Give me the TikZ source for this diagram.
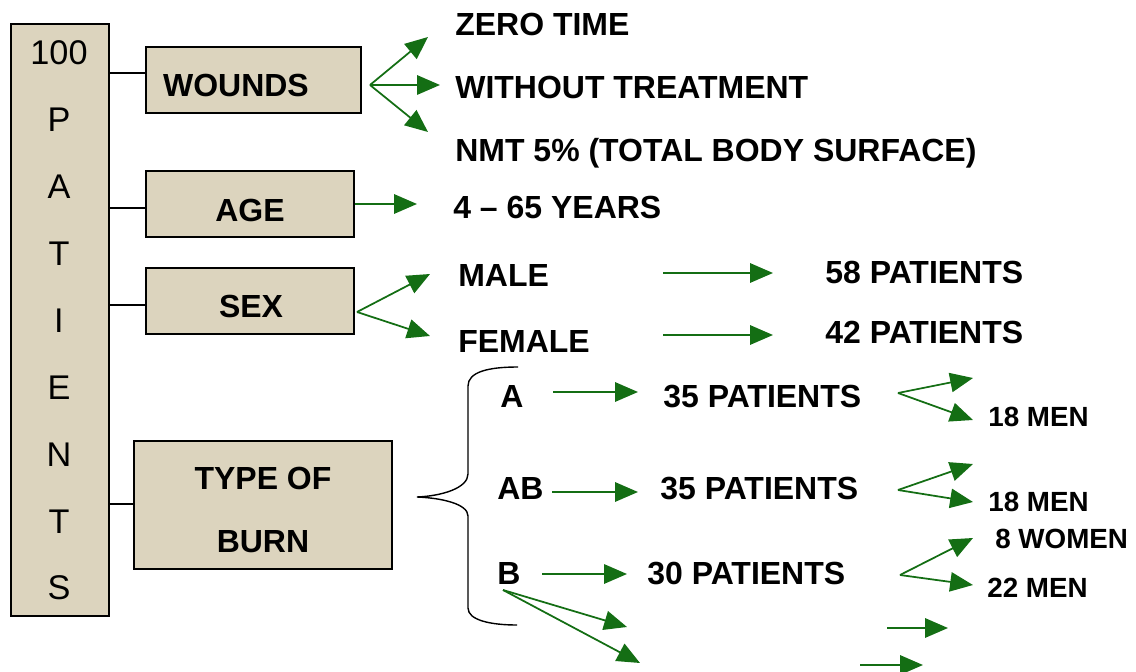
\documentclass[tikz,border=0pt]{standalone}
\usepackage{fontspec}
\setmainfont{Liberation Sans}
\usetikzlibrary{arrows.meta,fit}
\definecolor{arrgreen}{RGB}{20,110,20}
\definecolor{boxfill}{RGB}{220,212,190}

\begin{document}
\begin{tikzpicture}[x=0.02cm, y=-0.02cm, >={Triangle[length=13pt,width=11pt]},
    box/.style={draw, line width=1pt, fill=boxfill, inner sep=0pt},
    boxtext/.style={font=\fontsize{18.2}{35.7}\selectfont\bfseries, inner sep=0pt, align=center},
    lbl/.style={font=\fontsize{18.2}{22}\selectfont\bfseries, anchor=west, inner sep=0pt, text depth=0pt},
    sml/.style={font=\fontsize{15.8}{19}\selectfont\bfseries, anchor=west, inner sep=0pt, text depth=0pt},
    garrow/.style={->, draw=arrgreen, line width=1pt},
    link/.style={line width=0.8pt}]
    \useasboundingbox (0,0) rectangle (1136,672);

    % Boxes on the left
    \node [box, fit={(11,24) (109,616)}] (patients) {};
    \node [box, fit={(146,47) (361,113)}] (wounds) {};
    \node [box, fit={(146,171) (354,237)}] (age) {};
    \node [box, fit={(146,268) (354,334)}] (sex) {};
    \node [box, fit={(134,441) (392,569)}] (burn) {};

    \foreach \ch [count=\i from 0] in {100,P,A,T,I,E,N,T,S}
        \node [font=\fontsize{19.5}{23}\selectfont, inner sep=0pt] (col\i) at (59, 53+66.9*\i) {\ch};

    \node [boxtext] (woundstxt) at (236,85) {WOUNDS};
    \node [boxtext] (agetxt) at (250,210) {AGE};
    \node [boxtext] (sextxt) at (251,306) {SEX};
    \node [boxtext] (burntxt) at (263,510) {TYPE OF\\BURN};

    \draw [link] (patients.east |- 0,73) -- (wounds.west |- 0,73);
    \draw [link] (patients.east |- 0,208) -- (age.west |- 0,208);
    \draw [link] (patients.east |- 0,305) -- (sex.west |- 0,305);
    \draw [link] (patients.east |- 0,504) -- (burn.west |- 0,504);

    % Labels on the right
    \node [lbl] (zero) at (455,24) {ZERO TIME};
    \node [lbl] (without) at (455,87) {WITHOUT TREATMENT};
    \node [lbl] (nmt) at (455,150) {NMT 5\% (TOTAL BODY SURFACE)};
    \node [lbl] (years) at (453,207) {4 – 65 YEARS};
    \node [lbl] (male) at (458,276) {MALE};
    \node [lbl] (female) at (458,341) {FEMALE};
    \node [lbl] (pat58) at (825,272) {58 PATIENTS};
    \node [lbl] (pat42) at (825,332) {42 PATIENTS};
    \node [lbl] (typeA) at (500,396) {A};
    \node [lbl] (typeAB) at (497,488) {AB};
    \node [lbl] (typeB) at (497,573) {B};
    \node [lbl] (patA) at (663,396) {35 PATIENTS};
    \node [lbl] (patAB) at (660,488) {35 PATIENTS};
    \node [lbl] (patB) at (647,573) {30 PATIENTS};
    \node [sml] (menA) at (988,417) {18 MEN};
    \node [sml] (menAB) at (988,502) {18 MEN};
    \node [sml] (womenB) at (995,539) {8 WOMEN};
    \node [sml] (menB) at (987,588) {22 MEN};

    % Brace
    \draw [line width=0.8pt] (518,367) .. controls (488,367) and (468,372) .. (468,386)
        -- (468,474) .. controls (468,488) and (442,496) .. (417,497)
        .. controls (442,498) and (468,504) .. (468,516)
        -- (468,608) .. controls (468,620) and (490,625) .. (517,625);

    % Arrow ends
    \coordinate (wfork) at (370,85);
    \coordinate (wtip1) at (428,37);
    \coordinate (wtip2) at (440,85);
    \coordinate (wtip3) at (428,132);
    \coordinate (agetip) at (417,204);
    \coordinate (sfork) at (357,312);
    \coordinate (stip1) at (430,274);
    \coordinate (stip2) at (430,336);
    \coordinate (mstart) at (663,273);
    \coordinate (mtip) at (773,273);
    \coordinate (fstart) at (663,335);
    \coordinate (ftip) at (773,335);
    \coordinate (astart) at (553,392);
    \coordinate (atip) at (638,392);
    \coordinate (abstart) at (552,492);
    \coordinate (abtip) at (638,492);
    \coordinate (bstart) at (542,574);
    \coordinate (btip) at (627,574);
    \coordinate (afork) at (898,393);
    \coordinate (atip1) at (973,378);
    \coordinate (atip2) at (973,420);
    \coordinate (abfork) at (898,490);
    \coordinate (abtip1) at (973,464);
    \coordinate (abtip2) at (973,502);
    \coordinate (bfork) at (900,575);
    \coordinate (btip1) at (973,538);
    \coordinate (btip2) at (973,585);
    \coordinate (bdown) at (503,590);
    \coordinate (bdtip1) at (627,627);
    \coordinate (bdtip2) at (640,663);
    \coordinate (lstart1) at (887,628);
    \coordinate (ltip1) at (948,628);
    \coordinate (lstart2) at (860,665);
    \coordinate (ltip2) at (923,665);

    % Green arrows
    \draw [garrow] (age.east) -- (agetip);
    \foreach \s/\t in {wfork/wtip1, wfork/wtip2, wfork/wtip3, sfork/stip1, sfork/stip2,
                       mstart/mtip, fstart/ftip, astart/atip, abstart/abtip, bstart/btip,
                       afork/atip1, afork/atip2, abfork/abtip1, abfork/abtip2,
                       bfork/btip1, bfork/btip2, bdown/bdtip1, bdown/bdtip2,
                       lstart1/ltip1, lstart2/ltip2}
        \draw [garrow] (\s) -- (\t);
\end{tikzpicture}
\end{document}
